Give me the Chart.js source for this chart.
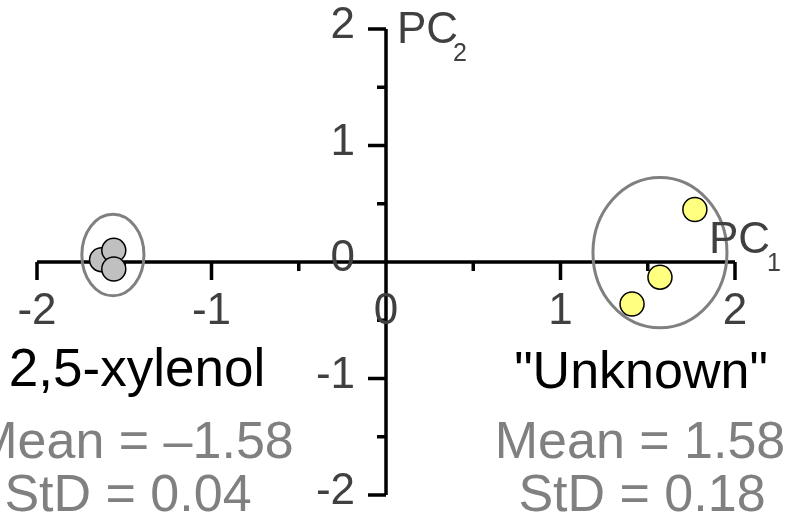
<!DOCTYPE html>
<html>
<head>
<meta charset="utf-8">
<script src="https://cdn.jsdelivr.net/npm/chart.js@4/dist/chart.umd.min.js"></script>
<style>
  html, body { margin: 0; padding: 0; background: #fff; }
  #wrap { width: 794px; height: 516px; position: relative; }
</style>
</head>
<body>
<div id="wrap"><canvas id="pcaChart"></canvas></div>
<script>
// PCA score plot: PC1 vs PC2
const xyleneX = [-1.63, -1.56, -1.56];
const xyleneY = [0.02, 0.10, -0.06];
const unknownX = [1.77, 1.57, 1.41];
const unknownY = [0.45, -0.13, -0.36];

const majorTicks = [-2, -1, 0, 1, 2];
const minorTicks = [-1.5, -0.5, 0.5, 1.5];

// group ellipses: centre x, centre y, radius x, radius y (data units)
const ellipseCx = [-1.565, 1.57];
const ellipseCy = [0.06, 0.08];
const ellipseRx = [0.178, 0.384];
const ellipseRy = [0.35, 0.645];

const FONT = '"Liberation Sans", Arial, sans-serif';

function toPoints(xs, ys) {
    return xs.map(function(x, i) { return { x: x, y: ys[i] }; });
}

// axes crossing at the origin, drawn under the points
const axesPlugin = {
    id: 'crossAxes',
    beforeDatasetsDraw: function(chart) {
        const ctx = chart.ctx;
        const xs = chart.scales.x, ys = chart.scales.y;
        const x0 = xs.getPixelForValue(0), y0 = ys.getPixelForValue(0);
        ctx.save();
        ctx.strokeStyle = '#000';
        ctx.lineWidth = 3.5;
        ctx.lineCap = 'butt';
        ctx.beginPath();
        ctx.moveTo(xs.getPixelForValue(-2), y0);
        ctx.lineTo(xs.getPixelForValue(2), y0);
        ctx.moveTo(x0, ys.getPixelForValue(2));
        ctx.lineTo(x0, ys.getPixelForValue(-2));
        majorTicks.forEach(function(t) {
            const px = xs.getPixelForValue(t), py = ys.getPixelForValue(t);
            ctx.moveTo(px, y0); ctx.lineTo(px, y0 + 18);
            ctx.moveTo(x0, py); ctx.lineTo(x0 - 18, py);
        });
        minorTicks.forEach(function(t) {
            const px = xs.getPixelForValue(t), py = ys.getPixelForValue(t);
            ctx.moveTo(px, y0); ctx.lineTo(px, y0 + 9);
            ctx.moveTo(x0, py); ctx.lineTo(x0 - 9, py);
        });
        ctx.stroke();

        // ellipses around each group
        ctx.strokeStyle = '#808080';
        ctx.lineWidth = 3;
        ellipseCx.forEach(function(cx, i) {
            const px = xs.getPixelForValue(cx), py = ys.getPixelForValue(ellipseCy[i]);
            const rx = xs.getPixelForValue(cx + ellipseRx[i]) - px;
            const ry = py - ys.getPixelForValue(ellipseCy[i] + ellipseRy[i]);
            ctx.beginPath();
            ctx.ellipse(px, py, rx, ry, 0, 0, Math.PI * 2);
            ctx.stroke();
        });

        // tick labels
        ctx.fillStyle = '#404040';
        ctx.font = '44px ' + FONT;
        ctx.textAlign = 'center';
        ctx.textBaseline = 'middle';
        majorTicks.forEach(function(t) {
            ctx.fillText(String(t), xs.getPixelForValue(t), y0 + 50);
        });
        ctx.textAlign = 'right';
        majorTicks.forEach(function(t) {
            ctx.fillText(String(t), x0 - 31, ys.getPixelForValue(t) - 3);
        });
        ctx.restore();
    },
    afterDraw: function(chart) {
        const ctx = chart.ctx;
        const xs = chart.scales.x;
        ctx.save();
        ctx.textBaseline = 'alphabetic';
        ctx.textAlign = 'left';
        ctx.fillStyle = '#404040';
        // axis titles with subscripts
        ctx.font = '44px ' + FONT;
        ctx.fillText('PC', xs.getPixelForValue(0) + 11, 43);
        ctx.fillText('PC', 709, 253);
        ctx.font = '25px ' + FONT;
        ctx.fillText('2', xs.getPixelForValue(0) + 67, 61);
        ctx.fillText('1', 767, 271);

        ctx.textAlign = 'center';
        ctx.fillStyle = '#000';
        ctx.font = '53px ' + FONT;
        ctx.fillText('2,5-xylenol', 137, 386);
        ctx.font = '52px ' + FONT;
        ctx.fillText('"Unknown"', 641, 388);

        ctx.fillStyle = '#808080';
        ctx.font = '52px ' + FONT;
        ctx.fillText('Mean = \u20131.58', 134, 458);
        ctx.fillText('StD = 0.04', 128, 511);
        ctx.fillText('Mean = 1.58', 640, 458);
        ctx.fillText('StD = 0.18', 642, 511);
        ctx.restore();
    }
};

new Chart(document.getElementById('pcaChart'), {
    type: 'scatter',
    data: {
        datasets: [{
            label: '2,5-xylenol',
            data: toPoints(xyleneX, xyleneY),
            backgroundColor: '#c0c0c0',
            borderColor: '#000',
            borderWidth: 1.5,
            pointRadius: 12
        }, {
            label: 'Unknown',
            data: toPoints(unknownX, unknownY),
            backgroundColor: '#ffff80',
            borderColor: '#000',
            borderWidth: 1.5,
            pointRadius: 12
        }]
    },
    options: {
        responsive: true,
        maintainAspectRatio: false,
        animation: false,
        events: [],
        layout: { padding: { left: 37, right: 59, top: 29, bottom: 21 } },
        plugins: {
            legend: { display: false },
            tooltip: { enabled: false }
        },
        scales: {
            x: { type: 'linear', min: -2, max: 2, display: false },
            y: { type: 'linear', min: -2, max: 2, display: false }
        }
    },
    plugins: [axesPlugin]
});
</script>
</body>
</html>
